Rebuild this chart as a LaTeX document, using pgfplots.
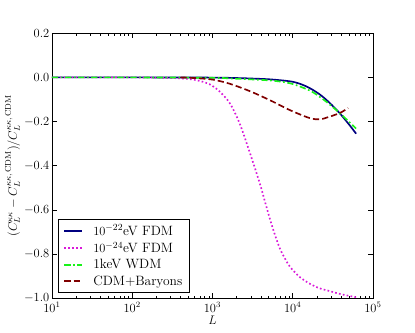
\documentclass[border=0pt]{standalone}
\usepackage{pgfplots}
\pgfplotsset{compat=1.18}
\definecolor{fdmblue}{rgb}{0,0,0.5}
\definecolor{fdmmag}{rgb}{0.85,0.1,0.85}
\definecolor{wdmgreen}{rgb}{0.1,0.95,0.1}
\definecolor{barred}{rgb}{0.5,0,0}
\begin{document}
\begin{tikzpicture}
\path[use as bounding box] (-50pt,-33pt) rectangle (349.5pt,287pt);
\begin{axis}[
  scale only axis, width=309pt, height=255pt,
  xmode=log, xmin=10, xmax=1e5, ymin=-1, ymax=0.2,
  ytick={-1.0,-0.8,-0.6,-0.4,-0.2,0.0,0.2},
  yticklabel style={xshift=1pt, /pgf/number format/fixed, /pgf/number format/fixed zerofill, /pgf/number format/precision=1},
  tick align=inside,
  major tick length=5pt, minor tick length=2.5pt,
  tick style={black, line width=0.4pt},
  axis line style={line width=0.5pt},
  tick label style={font=\fontsize{11.5}{12}\selectfont},
  xticklabel style={yshift=-0.5pt},
  xlabel={$L$},
  ylabel={$(C_L^{\kappa\kappa}-C_L^{\kappa\kappa,\,\mathrm{CDM}})/C_L^{\kappa\kappa,\,\mathrm{CDM}}$},
  xlabel style={yshift=3pt, font=\fontsize{13}{15}\selectfont},
  ylabel style={yshift=-3pt, font=\fontsize{11.8}{14}\selectfont},
  legend style={at={(0.019,0.023)}, anchor=south west, font=\fontsize{13}{15}\selectfont,
    row sep=1pt, inner xsep=5pt, inner ysep=3pt, draw=black, line width=0.5pt,
    /tikz/every odd column/.append style={column sep=8pt}},
  legend cell align=left,
]
\addplot[fdmblue, line width=1.6pt, smooth] coordinates {
(10,0) (100,0) (1000,-0.001) (2000,-0.003) (3000,-0.005) (5250,-0.009) (9330,-0.018)
(12300,-0.029) (16200,-0.048) (21900,-0.078) (28800,-0.115) (38900,-0.164) (51300,-0.217) (61700,-0.255)};
\addlegendentry{$10^{-22}$eV FDM}
\addplot[fdmmag, line width=1.6pt, dash pattern=on 1.6pt off 2.2pt, smooth] coordinates {
(10,0) (100,0) (316,-0.003) (525,-0.008) (708,-0.017) (933,-0.032) (1230,-0.064) (1660,-0.119)
(2190,-0.21) (2950,-0.345) (3890,-0.48) (4570,-0.57) (5250,-0.646) (6030,-0.715) (6920,-0.775)
(8130,-0.825) (9330,-0.86) (12300,-0.905) (16200,-0.934) (21400,-0.955) (28800,-0.968)
(39800,-0.982) (61700,-0.996)};
\addlegendentry{$10^{-24}$eV FDM}
\addplot[wdmgreen, line width=1.6pt, dash pattern=on 6pt off 2.5pt on 1.6pt off 2.5pt, smooth] coordinates {
(10,0) (100,0) (1000,-0.002) (2000,-0.006) (5250,-0.014) (9330,-0.027) (16200,-0.059)
(21900,-0.089) (28800,-0.122) (38900,-0.163) (51300,-0.204) (61700,-0.232)};
\addlegendentry{1keV WDM}
\addplot[barred, line width=1.6pt, dash pattern=on 6pt off 3pt, smooth] coordinates {
(400,0) (600,-0.003) (1000,-0.01) (1650,-0.029) (2950,-0.063) (5250,-0.104) (9330,-0.149)
(16200,-0.184) (21900,-0.19) (28800,-0.178) (38900,-0.161) (49000,-0.139)};
\addlegendentry{CDM+Baryons}
\end{axis}
\end{tikzpicture}
\end{document}
